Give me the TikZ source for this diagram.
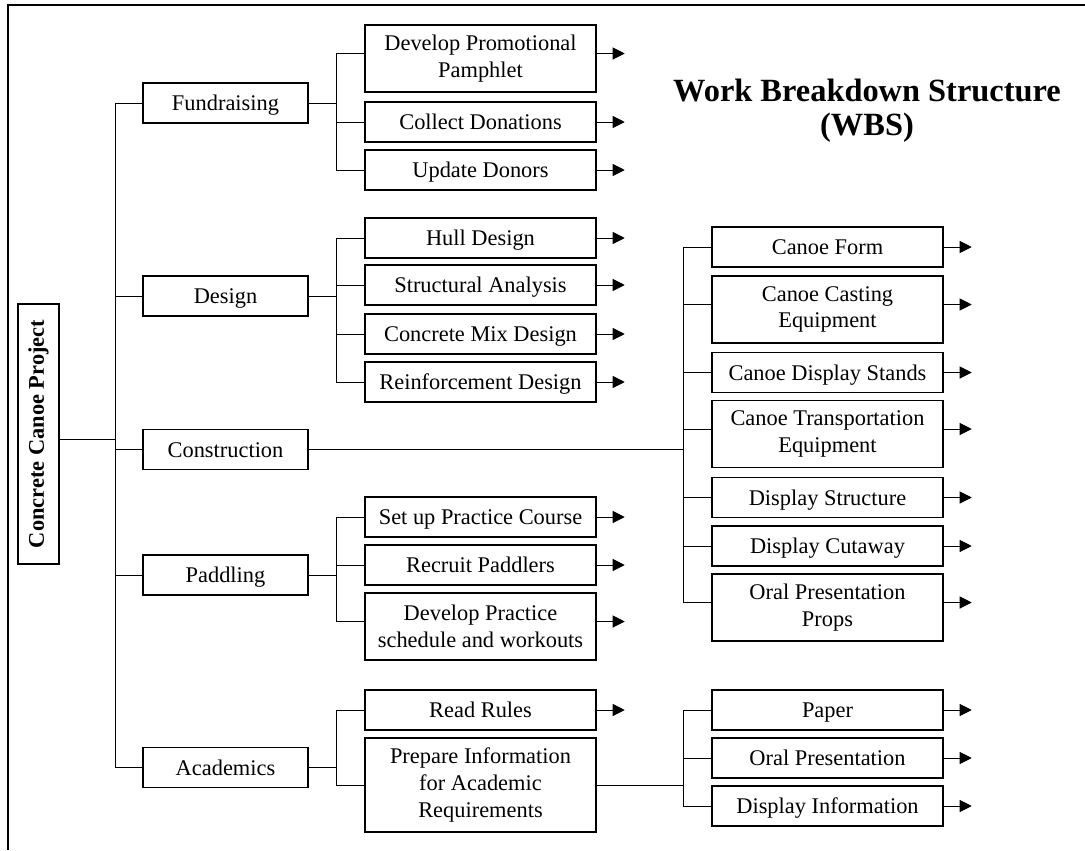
\documentclass[tikz,border=0pt]{standalone}
\usepackage{fontspec}
\setmainfont{Liberation Serif}
\usetikzlibrary{arrows.meta,calc}
\begin{document}
\begin{tikzpicture}[x=0.75pt,y=-0.75pt,
  box/.style={draw,line width=1.1pt,inner sep=0pt,align=center,font=\fontsize{16.8}{20}\selectfont},
  single/.style={text height=11.3pt,text depth=0pt},
  lone/.style={box,single,minimum width=123.75pt,minimum height=30pt},
  ltwo/.style={box,single,minimum width=173.25pt,minimum height=30pt},
  ltwotall/.style={box,minimum width=173.25pt,minimum height=50.25pt},
  ltwotaller/.style={box,minimum width=173.25pt,minimum height=70.5pt},
  conn/.style={line width=0.75pt},
  arr/.style={line width=0.75pt,-{Triangle[length=9pt,width=9pt]}}]
\useasboundingbox (0,0) rectangle (1085,850);
% frame
\draw[line width=1.1pt] (8,850) -- (8,5) -- (1085,5);
% title
\node[font=\bfseries\fontsize{24.3}{25.5}\selectfont,align=center] (title) at (867,111) {Work Breakdown Structure\\(WBS)};
% root
\node[box,minimum width=30.75pt,minimum height=195pt] (root) at (38.5,434) {};
\node[rotate=90,font=\bfseries\fontsize{16.8}{20}\selectfont] (roottxt) at (root.center) {Concrete Canoe Project};
% level 1
\node[lone] (fund) at (225.5,103) {Fundraising};
\node[lone] (des) at (225.5,296) {Design};
\node[lone] (cons) at (225.5,449.5) {Construction};
\node[lone] (padd) at (225.5,575) {Paddling};
\node[lone] (acad) at (225.5,767.5) {Academics};
% level 2
\node[ltwotall] (pamph) at (480.5,58.5) {Develop Promotional\\Pamphlet};
\node[ltwo] (collect) at (480.5,122) {Collect Donations};
\node[ltwo] (update) at (480.5,170) {Update Donors};
\node[ltwo] (hull) at (480.5,238) {Hull Design};
\node[ltwo] (struct) at (480.5,285) {Structural Analysis};
\node[ltwo] (mix) at (480.5,334) {Concrete Mix Design};
\node[ltwo] (reinf) at (480.5,382) {Reinforcement Design};
\node[ltwo] (setup) at (480.5,517) {Set up Practice Course};
\node[ltwo] (recruit) at (480.5,565) {Recruit Paddlers};
\node[ltwotall] (devprac) at (480.5,626.5) {Develop Practice\\schedule and workouts};
\node[ltwo] (rules) at (480.5,710) {Read Rules};
\node[ltwotaller] (prep) at (480.5,785) {Prepare Information\\for Academic\\Requirements};
% level 3
\node[ltwo] (form) at (827.5,247) {Canoe Form};
\node[ltwotall] (casting) at (827.5,309.5) {Canoe Casting\\Equipment};
\node[ltwo] (stands) at (827.5,372.5) {Canoe Display Stands};
\node[ltwotall] (transp) at (827.5,434) {Canoe Transportation\\Equipment};
\node[ltwo] (dstruct) at (827.5,497.5) {Display Structure};
\node[ltwo] (cutaway) at (827.5,546) {Display Cutaway};
\node[ltwotall] (props) at (827.5,607.5) {Oral Presentation\\Props};
\node[ltwo] (paper) at (827.5,710) {Paper};
\node[ltwo] (oral) at (827.5,758) {Oral Presentation};
\node[ltwo] (dinfo) at (827.5,806) {Display Information};
% bus coordinates
\coordinate (busone) at (115,0);
\coordinate (bustwo) at (336,0);
\coordinate (busthree) at (683,0);
\coordinate (rootc) at ($(root.east)+(0,5)$);
\coordinate (pamphc) at ($(pamph.west)+(0,-5)$);
\coordinate (devpracc) at ($(devprac.west)+(0,-5)$);
\coordinate (castingc) at ($(casting.west)+(0,-5)$);
\coordinate (transpc) at ($(transp.west)+(0,-5)$);
\coordinate (propsc) at ($(props.west)+(0,-5)$);
% level 1 trunk
\draw[conn] (fund.west -| busone) -- (acad.west -| busone);
\draw[conn] (rootc) -- (rootc -| busone);
\foreach \n in {fund,des,cons,padd,acad} \draw[conn] (\n.west) -- (\n.west -| busone);
% fundraising group
\draw[conn] (fund.east) -- (fund.east -| bustwo);
\draw[conn] (pamphc -| bustwo) -- (update.west -| bustwo);
\draw[conn] (pamphc) -- (pamphc -| bustwo);
\foreach \n in {collect,update} \draw[conn] (\n.west) -- (\n.west -| bustwo);
% design group
\draw[conn] (des.east) -- (des.east -| bustwo);
\draw[conn] (hull.west -| bustwo) -- (reinf.west -| bustwo);
\foreach \n in {hull,struct,mix,reinf} \draw[conn] (\n.west) -- (\n.west -| bustwo);
% paddling group
\draw[conn] (padd.east) -- (padd.east -| bustwo);
\draw[conn] (setup.west -| bustwo) -- (devpracc -| bustwo);
\draw[conn] (devpracc) -- (devpracc -| bustwo);
\foreach \n in {setup,recruit} \draw[conn] (\n.west) -- (\n.west -| bustwo);
% academics group
\draw[conn] (acad.east) -- (acad.east -| bustwo);
\draw[conn] (rules.west -| bustwo) -- (prep.west -| bustwo);
\foreach \n in {rules,prep} \draw[conn] (\n.west) -- (\n.west -| bustwo);
% construction group
\draw[conn] (cons.east) -- (cons.east -| busthree);
\draw[conn] (form.west -| busthree) -- (propsc -| busthree);
\foreach \n in {form,stands,dstruct,cutaway} \draw[conn] (\n.west) -- (\n.west -| busthree);
\foreach \n in {castingc,transpc,propsc} \draw[conn] (\n) -- (\n -| busthree);
% academic requirements group
\draw[conn] (prep.east) -- (prep.east -| busthree);
\draw[conn] (paper.west -| busthree) -- (dinfo.west -| busthree);
\foreach \n in {paper,oral,dinfo} \draw[conn] (\n.west) -- (\n.west -| busthree);
% arrows
\foreach \n in {collect,update,hull,struct,mix,reinf,setup,recruit,rules,form,stands,dstruct,cutaway,paper,oral,dinfo}
  \draw[arr] (\n.east) -- ++(28,0);
\draw[arr] (pamphc -| pamph.east) -- ++(28,0);
\draw[arr] (devpracc -| devprac.east) -- ++(28,0);
\draw[arr] (castingc -| casting.east) -- ++(28,0);
\draw[arr] (transpc -| transp.east) -- ++(28,0);
\draw[arr] (propsc -| props.east) -- ++(28,0);
\end{tikzpicture}
\end{document}
